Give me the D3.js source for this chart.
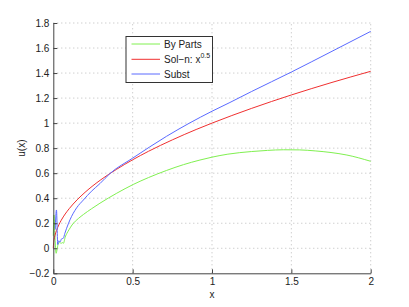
<!DOCTYPE html>
<html>
<head>
<meta charset="utf-8">
<title>u(x)</title>
<script src="https://d3js.org/d3.v7.min.js"></script>
<style>
    body { margin: 0; background: #fff; }
    svg { display: block; font-family: "Liberation Sans", Arial, sans-serif; }
    .tick text { font-size: 10px; fill: #222; }
    .grid line { stroke: #bbb; stroke-dasharray: 1,3; }
</style>
</head>
<body>
<svg></svg>
<script>
// values
var xTicks = [0, 0.5, 1, 1.5, 2];
var yTicks = [-0.2, 0, 0.2, 0.4, 0.6, 0.8, 1, 1.2, 1.4, 1.6, 1.8];
var xTickLabels = ["0", "0.5", "1", "1.5", "2"];
var yTickLabels = ["\u22120.2", "0", "0.2", "0.4", "0.6", "0.8", "1", "1.2", "1.4", "1.6", "1.8"];

var partsX = [0, 0.004, 0.012, 0.018, 0.025, 0.032, 0.04, 0.05, 0.058, 0.064, 0.075, 0.086, 0.1, 0.118, 0.16, 0.19, 0.24, 0.294, 0.4, 0.504, 0.6, 0.714, 0.82, 0.924, 1, 1.1, 1.25, 1.35, 1.45, 1.55, 1.65, 1.75, 1.85, 2];
var partsY = [0.1, 0.266, 0.05, -0.04, 0.0, 0.04, 0.045, 0.04, 0.045, 0.04, 0.09, 0.12, 0.15, 0.186, 0.24, 0.27, 0.315, 0.36, 0.44, 0.51, 0.565, 0.622, 0.668, 0.705, 0.728, 0.752, 0.773, 0.782, 0.787, 0.786, 0.778, 0.765, 0.745, 0.695];

var solnX = [0, 0.002, 0.005, 0.01, 0.02, 0.035, 0.05, 0.075, 0.1, 0.15, 0.2, 0.3, 0.4, 0.5, 0.6, 0.75, 0.9, 1, 1.25, 1.5, 1.75, 2];
var solnY = [0, 0.045, 0.071, 0.1, 0.141, 0.187, 0.224, 0.274, 0.316, 0.387, 0.447, 0.548, 0.632, 0.707, 0.775, 0.866, 0.949, 1, 1.118, 1.225, 1.323, 1.414];

var substX = [0.012, 0.02, 0.028, 0.035, 0.042, 0.052, 0.063, 0.073, 0.084, 0.105, 0.147, 0.189, 0.24, 0.294, 0.357, 0.5, 0.714, 1, 1.113, 1.25, 1.5, 1.75, 2];
var substY = [0.15, 0.306, 0.03, 0.06, 0.05, 0.075, 0.08, 0.12, 0.16, 0.227, 0.323, 0.385, 0.455, 0.517, 0.597, 0.72, 0.895, 1.095, 1.165, 1.253, 1.408, 1.57, 1.733];

var seriesNames = ["By Parts", "Sol\u2212n: x", "Subst"];
var seriesColors = ["#80f050", "#f03030", "#5a6aff"];

var width = 409, height = 307;
var margin = {top: 23, right: 38.3, bottom: 33.7, left: 53.3};

var svg = d3.select("svg").attr("width", width).attr("height", height);

var x = d3.scaleLinear().domain([0, 2]).range([margin.left, width - margin.right]);
var y = d3.scaleLinear().domain([-0.2, 1.8]).range([height - margin.bottom, margin.top]);

//grid
var grid = svg.append("g").attr("class", "grid");
grid.selectAll(".gx").data(xTicks.slice(1)).enter().append("line")
    .attr("x1", function(d){ return x(d); }).attr("x2", function(d){ return x(d); })
    .attr("y1", y(-0.2)).attr("y2", y(1.8));
grid.selectAll(".gy").data(yTicks.slice(1)).enter().append("line")
    .attr("y1", function(d){ return y(d); }).attr("y2", function(d){ return y(d); })
    .attr("x1", x(0)).attr("x2", x(2));

//curves
var series = [[partsX, partsY], [solnX, solnY], [substX, substY]];
var line = d3.line()
    .x(function(d){ return x(d[0]); })
    .y(function(d){ return y(d[1]); })
    .curve(d3.curveMonotoneX);

series.forEach(function(s, i){
    var pts = s[0].map(function(v, j){ return [v, s[1][j]]; });
    svg.append("path").datum(pts)
        .attr("d", line)
        .attr("fill", "none")
        .attr("stroke", seriesColors[i])
        .attr("stroke-width", 1);
});

//axes, ticks inside
var xAxis = d3.axisBottom(x).tickValues(xTicks)
    .tickFormat(function(d, i){ return xTickLabels[i]; })
    .tickSizeInner(-4).tickSizeOuter(0).tickPadding(5);
var yAxis = d3.axisLeft(y).tickValues(yTicks)
    .tickFormat(function(d, i){ return yTickLabels[i]; })
    .tickSizeInner(-4).tickSizeOuter(0).tickPadding(4);

var gx = svg.append("g").attr("transform", "translate(0," + y(-0.2) + ")").call(xAxis);
var gy = svg.append("g").attr("transform", "translate(" + x(0) + ",0)").call(yAxis);
[gx, gy].forEach(function(g){
    g.select(".domain").attr("stroke", "#444");
    g.selectAll(".tick line").attr("stroke", "#444");
});

//axis labels
svg.append("text").attr("x", x(1)).attr("y", 297.5)
    .attr("text-anchor", "middle").attr("font-size", 10).attr("fill", "#222").text("x");
svg.append("text")
    .attr("transform", "translate(25," + y(0.8) + ") rotate(-90)")
    .attr("text-anchor", "middle").attr("font-size", 10).attr("fill", "#222").text("u(x)");

//legend
var legend = svg.append("g");
legend.append("rect").attr("x", 126).attr("y", 36.5).attr("width", 86.5).attr("height", 46)
    .attr("fill", "#fff").attr("stroke", "#333").attr("stroke-width", 1);
var rowY = [44, 59.3, 74];
seriesNames.forEach(function(name, i){
    legend.append("line").attr("x1", 131.5).attr("x2", 160).attr("y1", rowY[i]).attr("y2", rowY[i])
        .attr("stroke", seriesColors[i]).attr("stroke-width", 1);
    var t = legend.append("text").attr("x", 164).attr("y", rowY[i] + 3.5)
        .attr("font-size", 10).attr("fill", "#222").text(name);
    if (i == 1) {
        t.append("tspan").attr("dy", -5).attr("font-size", 7).text("0.5");
    }
});
</script>
</body>
</html>
